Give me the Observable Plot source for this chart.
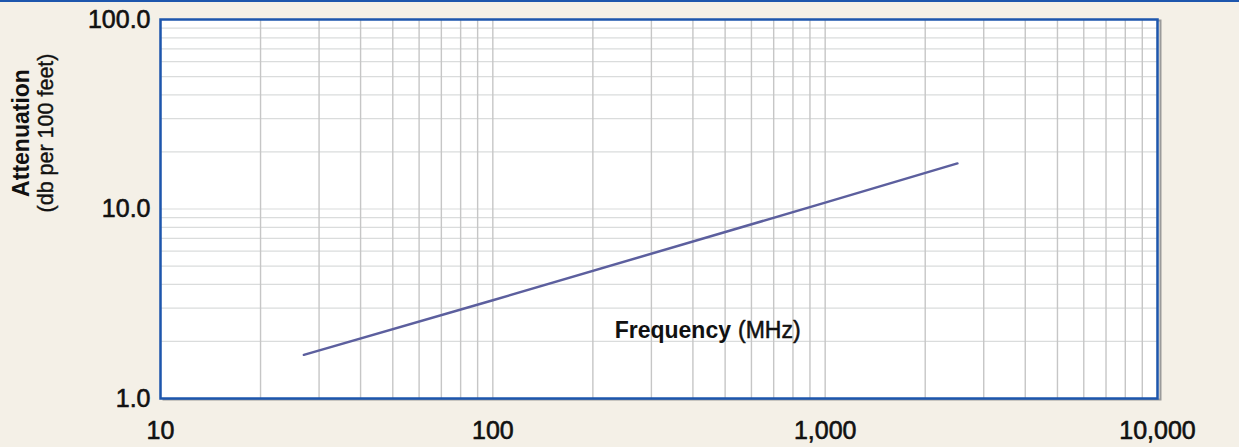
<!DOCTYPE html>
<html>
<head>
<meta charset="utf-8">
<script src="https://cdn.jsdelivr.net/npm/d3@7"></script>
<script src="https://cdn.jsdelivr.net/npm/@observablehq/plot@0.6"></script>
<style>
  html, body { margin: 0; padding: 0; background: #f4f0e7; overflow: hidden; }
  #wrap { position: relative; width: 1239px; height: 447px; }
  #rule { position: absolute; left: 0; top: 0; width: 1239px; height: 2px; background: #1d56ad; }
  #chart svg { display: block; }
</style>
</head>
<body>
<div id="wrap">
  <div id="chart"></div>
  <div id="rule"></div>
</div>
<script>
// Data
const frequencyMHz = [27, 100, 1000, 2500];
const attenuationDb = [1.7, 3.3, 10.8, 17.4];

// Axis ticks and labels
const xTicks = [10, 100, 1000, 10000];
const yTicks = [1, 10, 100];
const xDomain = [10, 10000];
const yDomain = [1, 100];
const yTitleBold = "Attenuation";
const yTitleSub = "(db per 100 feet)";
const xTitleBold = "Frequency";
const xTitleSub = "(MHz)";

const data = frequencyMHz.map((f, i) => ({f, a: attenuationDb[i]}));

const font = "'Liberation Sans', Arial, Helvetica, sans-serif";

const chart = Plot.plot({
  width: 1239,
  height: 447,
  marginLeft: 160,
  marginRight: 82,
  marginTop: 19,
  marginBottom: 49,
  style: { background: "transparent", fontFamily: font, fontSize: "25px", color: "#111" },
  x: { type: "log", domain: xDomain },
  y: { type: "log", domain: yDomain },
  marks: [
    Plot.frame({ stroke: "#9a9a9a", strokeWidth: 2, dx: 3, dy: 1 }),
    Plot.frame({ fill: "white", stroke: null }),
    Plot.gridY({ stroke: "#dadcdc", strokeOpacity: 1, strokeWidth: 1.2 }),
    Plot.gridX({ stroke: "#c6c6c6", strokeOpacity: 1, strokeWidth: 1.4 }),
    Plot.line(data, { x: "f", y: "a", stroke: "#5c5f9e", strokeWidth: 2.5 }),
    Plot.frame({ stroke: "#1d56ad", strokeWidth: 2.5 }),
    Plot.axisX(xTicks, { tickSize: 0, tickPadding: 23, tickFormat: d3.format(","), fontSize: 25, fill: "#111",
      textStroke: "#111", textStrokeWidth: 0.6, label: null }),
    Plot.axisY(yTicks, { tickSize: 0, tickPadding: 10, tickFormat: d3.format(".1f"), fontSize: 25, fill: "#111",
      textStroke: "#111", textStrokeWidth: 0.6, label: null }),
    Plot.text([yTitleBold], { text: d => d, frameAnchor: "left", rotate: -90, textAnchor: "middle", lineAnchor: "bottom",
      dx: -132, dy: -76, fontSize: 23, fontWeight: "bold", fill: "#111" }),
    Plot.text([yTitleSub], { text: d => d, frameAnchor: "left", rotate: -90, textAnchor: "middle", lineAnchor: "bottom",
      dx: -108, dy: -76, fontSize: 21.5, fill: "#111", stroke: "#111", strokeWidth: 0.4 }),
    Plot.text([xTitleBold], { text: d => d, frameAnchor: "bottom", textAnchor: "end", lineAnchor: "bottom",
      dx: 72, dy: -61, fontSize: 23, fontWeight: "bold", fill: "#111" }),
    Plot.text([xTitleSub], { text: d => d, frameAnchor: "bottom", textAnchor: "start", lineAnchor: "bottom",
      dx: 79, dy: -61, fontSize: 23, fill: "#111", stroke: "#111", strokeWidth: 0.5 })
  ]
});
document.getElementById("chart").appendChild(chart);
</script>
</body>
</html>
